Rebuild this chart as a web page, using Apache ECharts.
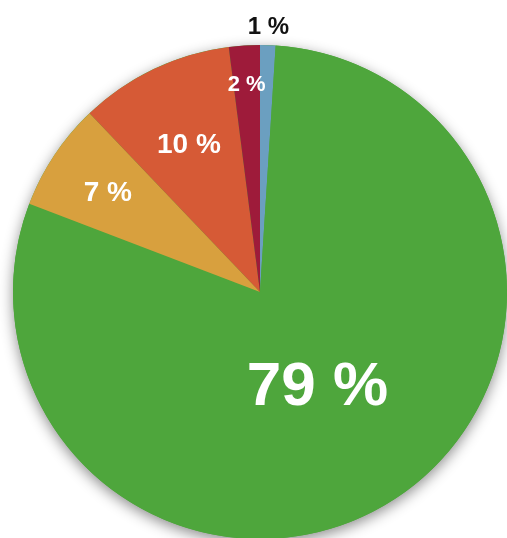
<!DOCTYPE html>
<html>
<head>
<meta charset="utf-8">
<script src="https://cdn.jsdelivr.net/npm/echarts@6/dist/echarts.min.js"></script>
<style>
  html, body { margin: 0; padding: 0; background: #ffffff; }
  #chart { width: 507px; height: 538px; }
</style>
</head>
<body>
<div id="chart"></div>
<script>
// Share of each segment, in percent, clockwise from 12 o'clock
const segments = ['Segment 1', 'Segment 2', 'Segment 3', 'Segment 4', 'Segment 5'];
const shares = [1, 79, 7, 10, 2];

// Styling per segment
const sliceColors = ['#6b9fc0', '#4ea63c', '#d8a03e', '#d65a36', '#9e1b3a'];
const labelColors = ['#111111', '#ffffff', '#ffffff', '#ffffff', '#ffffff'];
const labelSizes = [24, 62, 28, 28, 22];
// Label distance from the centre, as a fraction of the radius
const labelRadius = [1.08, 0.43, 0.74, 0.67, 0.85];

const center = [260, 292];
const radius = 247;

const total = shares.reduce((a, b) => a + b, 0);
const midAngles = [];
let acc = 0;
shares.forEach(v => {
  midAngles.push((acc + v / 2) / total * 2 * Math.PI);
  acc += v;
});

const chart = echarts.init(document.getElementById('chart'), null, { renderer: 'canvas' });

chart.setOption({
  animation: false,
  series: [
    {
      // plain disc underneath that casts the soft drop shadow
      type: 'pie',
      silent: true,
      center: center,
      radius: radius,
      label: { show: false },
      labelLine: { show: false },
      itemStyle: {
        color: '#4ea63c',
        shadowBlur: 14,
        shadowColor: 'rgba(0,0,0,0.45)',
        shadowOffsetY: 4
      },
      data: [{ value: 1, name: 'base' }]
    },
    {
      type: 'pie',
      center: center,
      radius: radius,
      startAngle: 90,
      clockwise: true,
      avoidLabelOverlap: false,
      labelLine: { show: false },
      label: {
        show: true,
        position: 'inside',
        fontFamily: '"Liberation Sans", Arial, sans-serif',
        fontWeight: 'bold',
        formatter: p => p.value + ' %'
      },
      labelLayout: p => {
        const i = p.dataIndex;
        const a = midAngles[i];
        const r = radius * labelRadius[i];
        return {
          x: center[0] + Math.sin(a) * r,
          y: center[1] - Math.cos(a) * r + labelSizes[i] * 0.1,
          align: 'center',
          verticalAlign: 'middle'
        };
      },
      data: segments.map((name, i) => ({
        name: name,
        value: shares[i],
        itemStyle: { color: sliceColors[i] },
        label: { color: labelColors[i], fontSize: labelSizes[i] }
      }))
    }
  ]
});
</script>
</body>
</html>
